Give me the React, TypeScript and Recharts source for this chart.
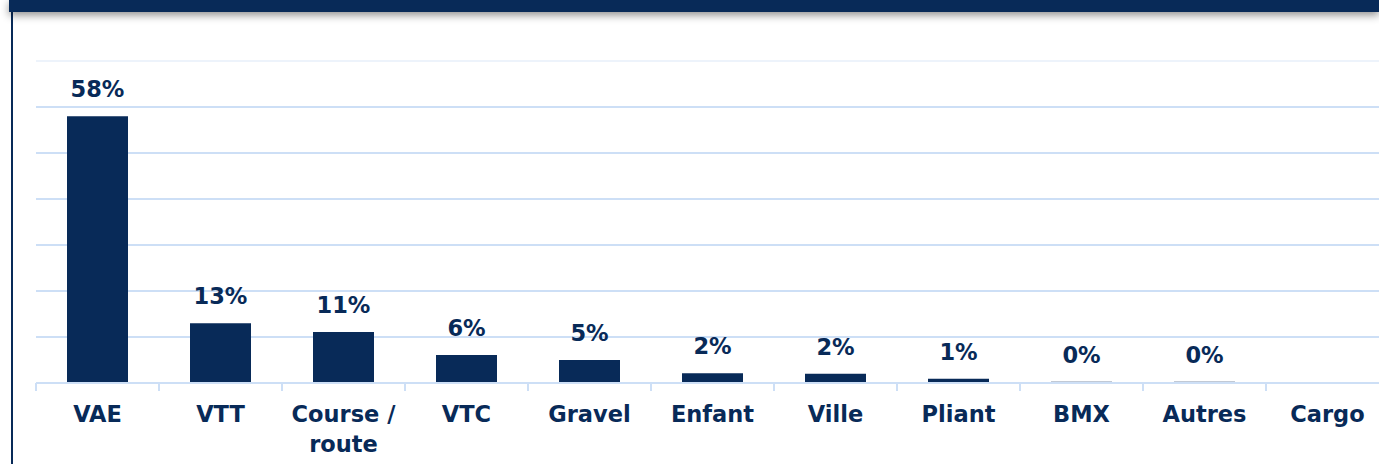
import { BarChart, Bar, XAxis, YAxis, CartesianGrid, ReferenceLine, LabelList } from 'recharts';

const categories = ['VAE', 'VTT', 'Course / route', 'VTC', 'Gravel', 'Enfant', 'Ville', 'Pliant', 'BMX', 'Autres', 'Cargo'];
const shares = [58, 13, 11.1, 6.1, 5, 2.1, 2, 0.95, 0.25, 0.25, 0];
const shareLabels = ['58%', '13%', '11%', '6%', '5%', '2%', '2%', '1%', '0%', '0%', '0%'];
const yTicks = [0, 10, 20, 30, 40, 50, 60, 70];

const NAVY = '#082a58';
const GRID = '#cddff6';
const FONT = '"DejaVu Sans", sans-serif';

const data = categories.map((name, i) => ({ name, value: shares[i], label: shareLabels[i] }));

const CHART_W = 1400;
const MARGIN_L = 36;
const MARGIN_R = 11;
const BAND = (CHART_W - MARGIN_L - MARGIN_R) / categories.length;

// category labels, split on " / " into two lines, plus boundary tick marks
function CategoryTick(props: any) {
  const { x, y, payload } = props;
  const text: string = payload.value;
  const lines = text.includes(' / ') ? [text.split(' / ')[0] + ' /', text.split(' / ')[1]] : [text];
  return (
    <g>
      <line x1={x - BAND / 2} x2={x - BAND / 2} y1={y} y2={y + 8} stroke={GRID} strokeWidth={2} />
      <text textAnchor="middle" fill={NAVY} fontFamily={FONT} fontWeight={700} fontSize={22.5}>
        {lines.map((l, i) => (
          <tspan key={i} x={x} y={y + 38.5 + i * 30}>{l}</tspan>
        ))}
      </text>
    </g>
  );
}

export default function App() {
  return (
    <div style={{ position: 'fixed', left: 0, top: 0, width: 1379, height: 464, overflow: 'hidden', background: '#fff' }}>
      <div style={{ position: 'absolute', left: 9, top: 0, width: 1370, height: 12, background: NAVY, boxShadow: '0 3px 8px rgba(0,0,0,0.45)', zIndex: 2 }} />
      <div style={{ position: 'absolute', left: 11, top: 10, width: 2, height: 454, background: NAVY, zIndex: 1 }} />
      <div style={{ position: 'absolute', left: 0, top: 0 }}>
        <BarChart width={CHART_W} height={464} data={data} margin={{ top: 61, right: MARGIN_R, bottom: 0, left: MARGIN_L }}>
          <CartesianGrid vertical={false} stroke={GRID} strokeWidth={2} />
          <ReferenceLine y={70} stroke="#edf3fb" strokeWidth={2} />
          <YAxis hide domain={[0, 70]} ticks={yTicks} />
          <XAxis
            dataKey="name"
            interval={0}
            height={81}
            tickSize={0}
            tickMargin={0}
            tickLine={false}
            axisLine={{ stroke: GRID, strokeWidth: 2 }}
            tick={<CategoryTick />}
          />
          <Bar dataKey="value" fill={NAVY} barSize={61} isAnimationActive={false}>
            <LabelList dataKey="label" position="top" offset={19} fill={NAVY} fontFamily={FONT} fontWeight={700} fontSize={22.5} />
          </Bar>
        </BarChart>
      </div>
    </div>
  );
}
